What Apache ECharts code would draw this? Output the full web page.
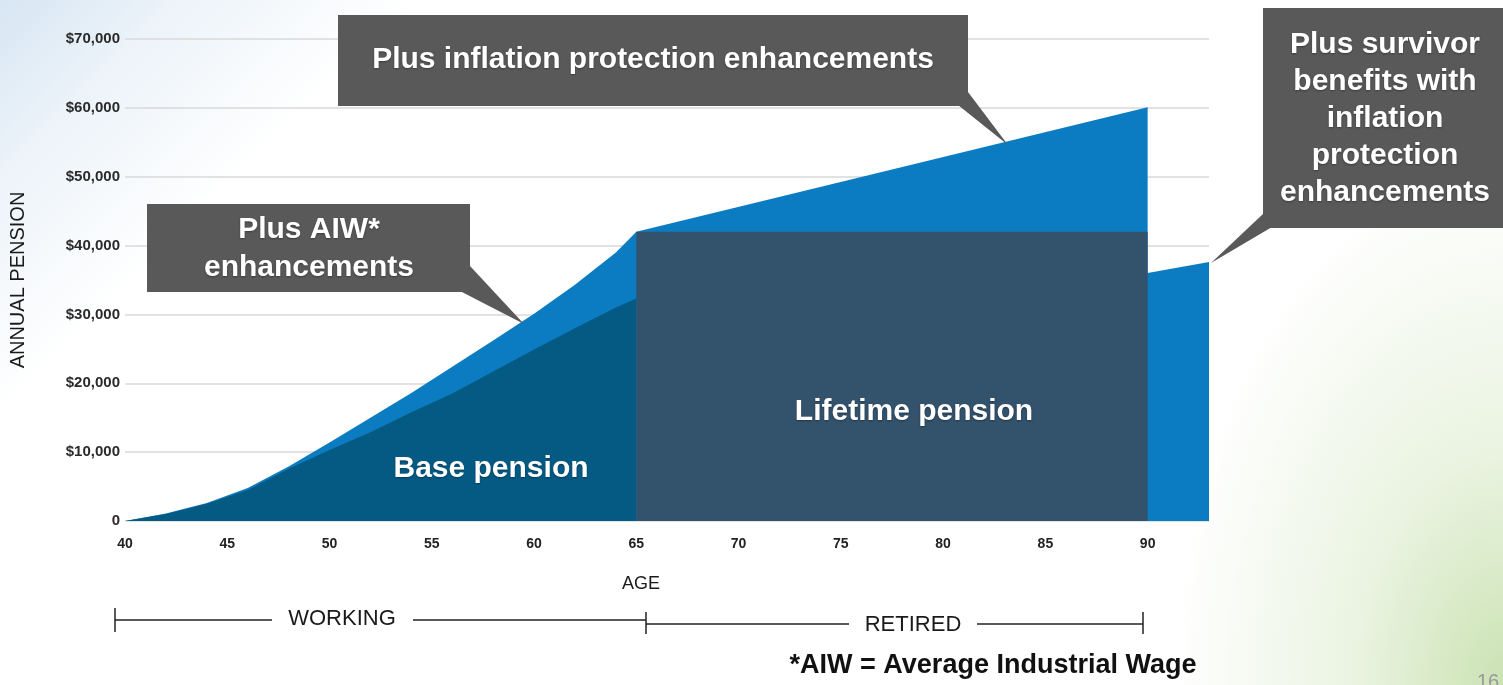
<!DOCTYPE html>
<html>
<head>
<meta charset="utf-8">
<script src="https://cdn.jsdelivr.net/npm/echarts@6/dist/echarts.min.js"></script>
<style>
  html, body { margin:0; padding:0; width:1503px; height:685px; overflow:hidden; }
  body {
    background:
      radial-gradient(ellipse 330px 520px at 100% 100%, rgba(200,225,175,0.95) 0%, rgba(220,236,205,0.6) 45%, rgba(255,255,255,0) 100%),
      linear-gradient(135deg, #d7e6f3 0%, #ecf3f9 8%, #ffffff 19%);
  }
  #chart { width:1503px; height:685px; }
</style>
</head>
<body>
<div id="chart"></div>
<script>
// ---- data ----
const workAges      = [40, 42, 44, 46, 48, 50, 52, 54, 56, 58, 60, 62, 64, 65];
const enhancedWork  = [0, 1100, 2600, 4800, 7900, 11400, 15000, 18600, 22400, 26200, 30100, 34300, 39000, 42000];
const baseWork      = [0, 1000, 2500, 4500, 7600, 10300, 12900, 15800, 18500, 21700, 24900, 28000, 31000, 32300];
const retiredAges     = [90];
const enhancedRetired = [60100];
const survivorAges    = [90, 93];
const survivorValues  = [36000, 37600];
const lifetimeAges    = [65, 90];
const lifetimeValue   = 42000;
const yTicks = [0, 10000, 20000, 30000, 40000, 50000, 60000, 70000];
const xTicks = [40, 45, 50, 55, 60, 65, 70, 75, 80, 85, 90];

// ---- build series data ----
const enhancedData = workAges.map((a, i) => [a, enhancedWork[i]])
  .concat(retiredAges.map((a, i) => [a, enhancedRetired[i]]))
  .concat(survivorAges.map((a, i) => [a, survivorValues[i]]));
const baseData = workAges.map((a, i) => [a, baseWork[i]]);
const lifetimeData = [[lifetimeAges[0], 0], [lifetimeAges[0], lifetimeValue], [lifetimeAges[1], lifetimeValue], [lifetimeAges[1], 0]];

const FONT = '"Liberation Sans", Arial, sans-serif';
const BOX = '#595959';

function boxText(x, y, text, lh) {
  return {
    type: 'text', x: x, y: y, z: 110,
    style: {
      text: text, fill: '#ffffff', fontSize: 30, fontWeight: 'bold', fontFamily: FONT,
      align: 'center', verticalAlign: 'middle', lineHeight: lh || 37,
      textShadowColor: 'rgba(0,0,0,0.35)', textShadowBlur: 2, textShadowOffsetY: 1
    }
  };
}
function rect(x, y, w, h) {
  return { type: 'rect', z: 100, shape: { x: x, y: y, width: w, height: h }, style: { fill: BOX } };
}
function tri(pts) {
  return { type: 'polygon', z: 100, shape: { points: pts }, style: { fill: BOX } };
}
function seg(x1, y1, x2, y2) {
  return { type: 'line', z: 100, shape: { x1: x1, y1: y1, x2: x2, y2: y2 }, style: { stroke: '#222', lineWidth: 1.5 } };
}
function label(x, y, text, size, weight, color) {
  return {
    type: 'text', x: x, y: y, z: 110,
    style: { text: text, fill: color || '#1a1a1a', fontSize: size, fontWeight: weight || 'normal', fontFamily: FONT,
      align: 'center', verticalAlign: 'middle' }
  };
}

const chart = echarts.init(document.getElementById('chart'), null, { renderer: 'canvas' });
chart.setOption({
  backgroundColor: 'transparent',
  animation: false,
  grid: { left: 122, right: 294, top: 39, bottom: 164, containLabel: false },
  xAxis: {
    type: 'value', min: 40, max: 93, interval: 5,
    axisLine: { show: false }, axisTick: { show: false }, splitLine: { show: false },
    axisLabel: {
      margin: 16, color: '#222', fontSize: 14, fontWeight: 'bold', fontFamily: FONT,
      formatter: v => (xTicks.indexOf(v) >= 0 ? String(v) : '')
    }
  },
  yAxis: {
    type: 'value', min: yTicks[0], max: yTicks[yTicks.length - 1], interval: 10000,
    name: 'ANNUAL PENSION', nameLocation: 'middle', nameRotate: 90, nameGap: 97,
    nameTextStyle: { color: '#1a1a1a', fontSize: 20, fontFamily: FONT },
    axisLine: { show: false }, axisTick: { show: false },
    splitLine: { show: true, lineStyle: { color: '#d9d9d9', width: 1.5 } },
    axisLabel: {
      margin: 5, color: '#2a2a2a', fontSize: 15, fontWeight: 'bold', fontFamily: FONT,
      padding: [12, 0, 0, 0],
      formatter: v => (v === 0 ? '0' : '$' + v.toLocaleString('en-US'))
    }
  },
  series: [
    {
      name: 'Plus inflation protection enhancements', type: 'line', data: enhancedData,
      symbol: 'none', lineStyle: { width: 0 }, areaStyle: { color: '#0b7cc1', opacity: 1 }, z: 2
    },
    {
      name: 'Base pension', type: 'line', data: baseData,
      symbol: 'none', lineStyle: { width: 0 }, areaStyle: { color: '#055a84', opacity: 1 }, z: 3
    },
    {
      name: 'Lifetime pension', type: 'line', data: lifetimeData,
      symbol: 'none', lineStyle: { width: 0 }, areaStyle: { color: '#33526c', opacity: 1 }, z: 4
    }
  ],
  graphic: [
    // callout: inflation protection
    rect(338, 15, 630, 91),
    tri([[958, 105], [968, 92], [1008, 145]]),
    boxText(653, 60, 'Plus inflation protection enhancements'),
    // callout: AIW
    rect(147, 204, 323, 88),
    tri([[460, 291], [470, 266], [524, 324]]),
    boxText(309, 249, 'Plus AIW*\nenhancements', 38),
    // callout: survivor
    rect(1263, 8, 245, 220),
    tri([[1263, 214], [1272, 227], [1211, 263]]),
    boxText(1385, 119, 'Plus survivor\nbenefits with\ninflation\nprotection\nenhancements', 37),
    // area labels
    boxText(914, 412, 'Lifetime pension'),
    boxText(491, 469, 'Base pension'),
    // axis title
    label(641, 584, 'AGE', 18),
    // working / retired bracket
    seg(115, 620, 272, 620), seg(413, 620, 646, 620),
    seg(115, 608, 115, 632), seg(646, 612, 646, 634),
    label(342, 619, 'WORKING', 22),
    seg(646, 624, 849, 624), seg(977, 624, 1143, 624),
    seg(1143, 612, 1143, 634),
    label(913, 625, 'RETIRED', 22),
    // footnote
    label(993, 666, '*AIW = Average Industrial Wage', 27, 'bold', '#111'),
    label(1488, 682, '16', 20, 'normal', '#9a9a9a')
  ]
});
</script>
</body>
</html>
